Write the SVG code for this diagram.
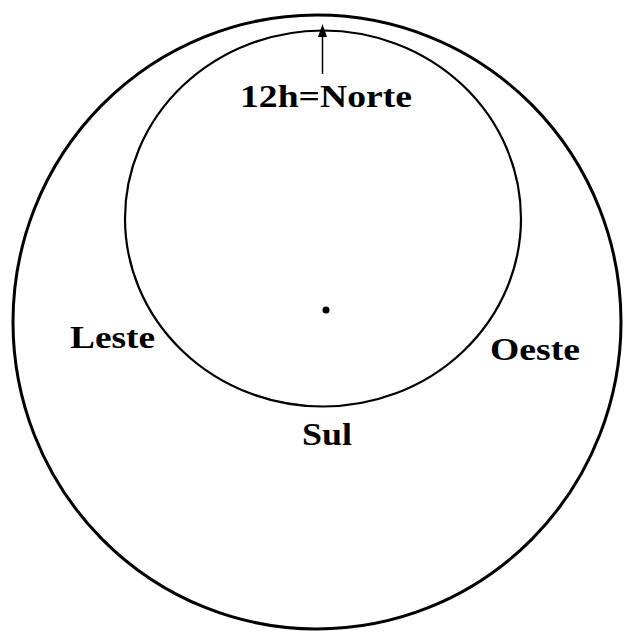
<svg xmlns="http://www.w3.org/2000/svg" width="627" height="632" viewBox="0 0 627 632">
<style>
.c{fill:none;stroke:#000}
.t{font-family:"Liberation Serif","Times New Roman",serif;font-weight:bold;font-size:31px;fill:#000}
</style>
<rect width="627" height="632" fill="#fff"/>
<g id="outer"><ellipse class="c" cx="317" cy="322" rx="304" ry="307" stroke-width="3"/></g>
<g id="inner"><ellipse class="c" cx="323" cy="218.5" rx="198" ry="188" stroke-width="2.2"/></g>
<g id="center"><circle cx="326" cy="310" r="3.5" fill="#000"/></g>
<g id="connectors">
<line x1="322.5" y1="74" x2="322.5" y2="34" stroke="#000" stroke-width="1.5"/>
<polygon points="322.5,24 318,37 327,37" fill="#000"/>
</g>
<g id="norte"><text class="t" x="240" y="107" textLength="172" lengthAdjust="spacingAndGlyphs">12h=Norte</text></g>
<g id="leste"><text class="t" x="70" y="348" textLength="85" lengthAdjust="spacingAndGlyphs">Leste</text></g>
<g id="oeste"><text class="t" x="490" y="360" textLength="90" lengthAdjust="spacingAndGlyphs">Oeste</text></g>
<g id="sul"><text class="t" x="302" y="445" textLength="50" lengthAdjust="spacingAndGlyphs">Sul</text></g>
</svg>
